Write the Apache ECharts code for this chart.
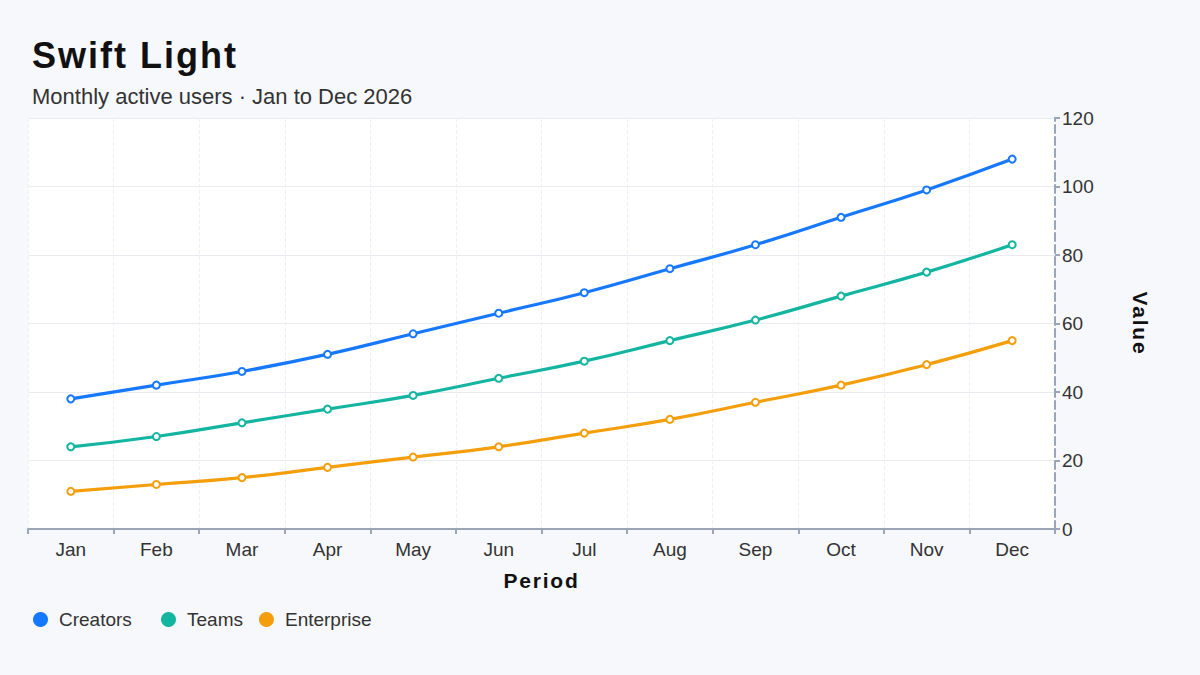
<!DOCTYPE html>
<html>
<head>
<meta charset="utf-8">
<script src="https://cdn.jsdelivr.net/npm/echarts@6/dist/echarts.min.js"></script>
<style>
  html, body { margin: 0; padding: 0; background: #f7f8fc; }
  #main { width: 1200px; height: 675px; }
  /* spaced headings: title and axis names */
  #main text[style*="bold"] { letter-spacing: 2px; }
  #main text[style*="600"] { letter-spacing: 1.8px; }
</style>
</head>
<body>
<div id="main"></div>
<script>
var months = ['Jan', 'Feb', 'Mar', 'Apr', 'May', 'Jun', 'Jul', 'Aug', 'Sep', 'Oct', 'Nov', 'Dec'];
var creators = [38, 42, 46, 51, 57, 63, 69, 76, 83, 91, 99, 108];
var teams = [24, 27, 31, 35, 39, 44, 49, 55, 61, 68, 75, 83];
var enterprise = [11, 13, 15, 18, 21, 24, 28, 32, 37, 42, 48, 55];

var myChart = echarts.init(document.getElementById('main'), null, { renderer: 'svg' });

function lineSeries(name, color, data) {
    return {
        name: name,
        type: 'line',
        smooth: true,
        symbol: 'emptyCircle',
        symbolSize: 7,
        lineStyle: { width: 3.2, color: color },
        itemStyle: { color: color, borderWidth: 2 },
        data: data
    };
}

function legendAt(left, names) {
    return {
        left: left,
        top: 610,
        padding: 0,
        icon: 'circle',
        itemWidth: 15,
        itemHeight: 15,
        itemGap: 16,
        textStyle: { fontSize: 19, color: '#333', padding: [0, 0, 0, 6] },
        data: names
    };
}

var option = {
    backgroundColor: '#f7f8fc',
    textStyle: { fontFamily: 'Liberation Sans, Arial, sans-serif' },
    title: {
        text: 'Swift Light',
        subtext: 'Monthly active users · Jan to Dec 2026',
        left: 27,
        top: 32,
        textStyle: { fontSize: 36, fontWeight: 'bold', color: '#111' },
        subtextStyle: { fontSize: 22, color: '#333' },
        itemGap: 12
    },
    legend: [
        legendAt(33, ['Creators']),
        legendAt(161, ['Teams', 'Enterprise'])
    ],
    grid: {
        left: 28,
        right: 145,
        top: 118,
        bottom: 146,
        show: true,
        backgroundColor: '#ffffff',
        borderWidth: 0
    },
    xAxis: {
        type: 'category',
        data: months,
        boundaryGap: true,
        name: 'Period',
        nameLocation: 'middle',
        nameGap: 41,
        nameTextStyle: { fontSize: 21, fontWeight: 600, color: '#111' },
        axisLine: { lineStyle: { color: '#9aa5b8', width: 2 } },
        axisTick: { show: true, length: 5, lineStyle: { color: '#9aa5b8', width: 2 } },
        axisLabel: { fontSize: 19, color: '#333', margin: 11 },
        splitLine: { show: true, lineStyle: { type: 'dashed', color: '#eef0f3' } }
    },
    yAxis: {
        type: 'value',
        position: 'right',
        min: 0,
        max: 120,
        interval: 20,
        name: 'Value',
        nameLocation: 'middle',
        nameGap: 75,
        nameRotate: -90,
        nameTextStyle: { fontSize: 21, fontWeight: 600, color: '#111' },
        axisLine: { show: true, lineStyle: { color: '#9aa5b8', width: 2, type: 'dashed' } },
        axisTick: { show: true, length: 5, lineStyle: { color: '#9aa5b8', width: 2 } },
        axisLabel: { fontSize: 19, color: '#333', margin: 7 },
        splitLine: { show: true, lineStyle: { color: '#e8ebf0' } }
    },
    series: [
        lineSeries('Creators', '#1677ff', creators),
        lineSeries('Teams', '#13b5a0', teams),
        lineSeries('Enterprise', '#f59e0b', enterprise)
    ]
};

myChart.setOption(option);
</script>
</body>
</html>
